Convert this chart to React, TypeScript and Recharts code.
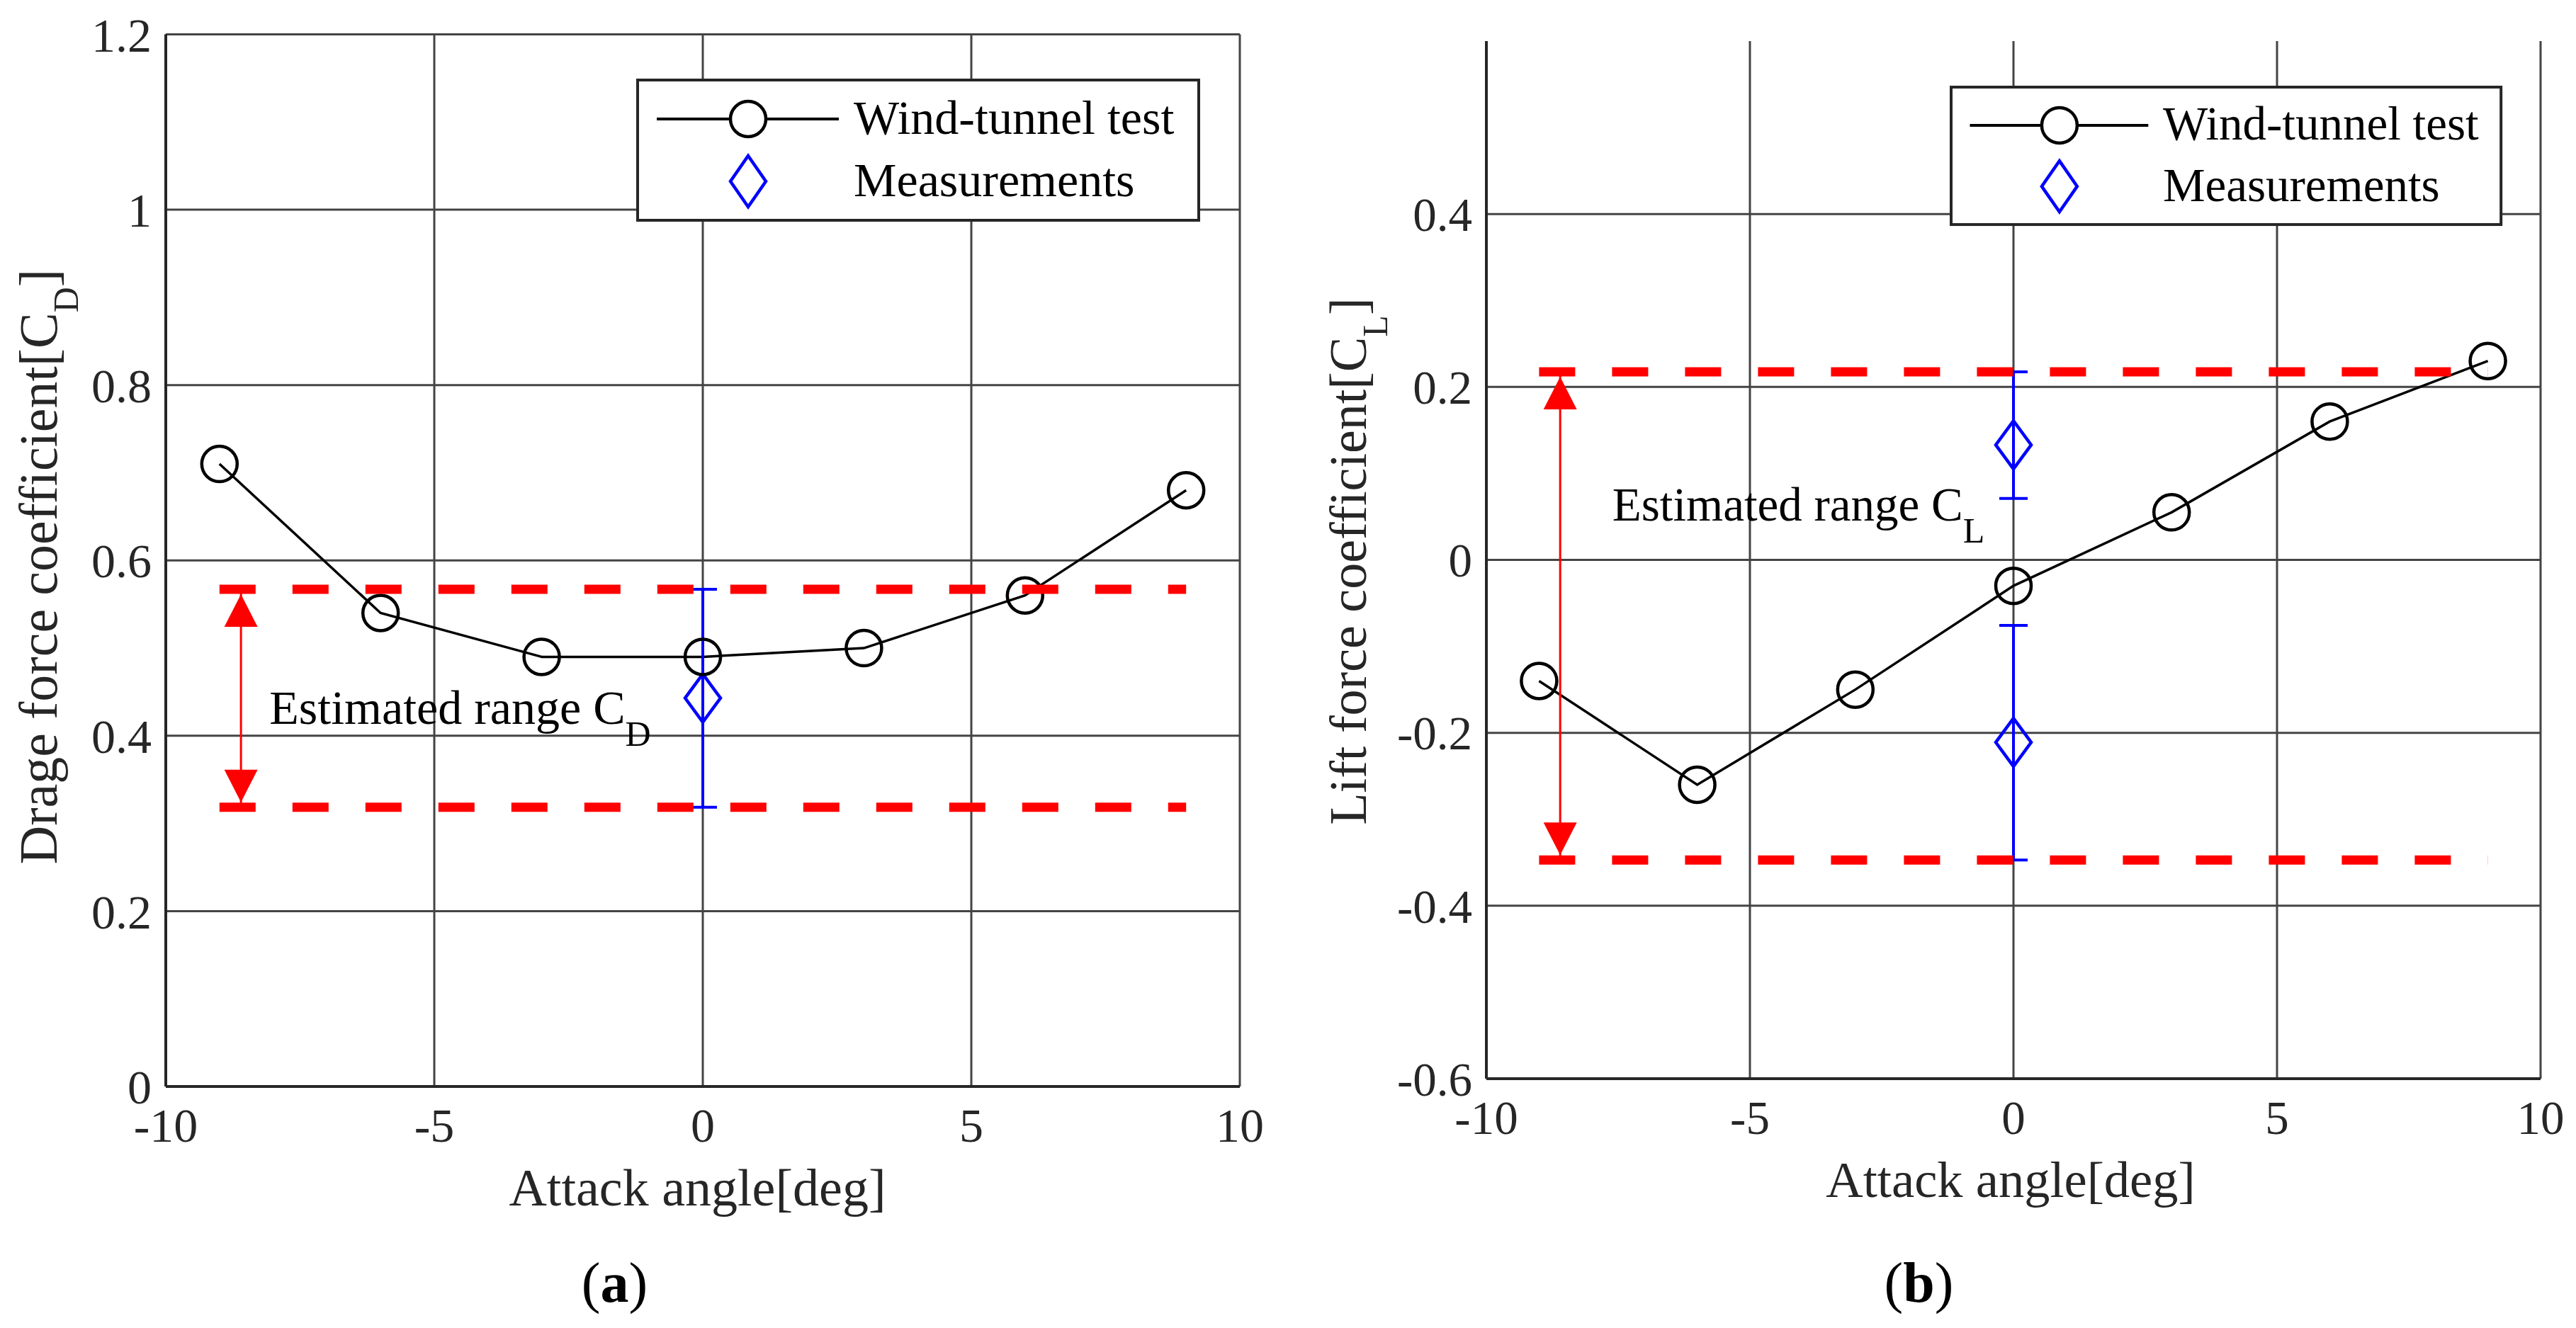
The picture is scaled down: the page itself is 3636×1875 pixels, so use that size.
import React from "react";
import {
  ComposedChart,
  Line,
  Scatter,
  ErrorBar,
  XAxis,
  YAxis,
  CartesianGrid,
  Legend,
  ReferenceDot,
} from "recharts";

const SERIF = "'Liberation Serif', 'Times New Roman', Times, serif";
const AXIS_INK = "#262626";

// wind-tunnel runs
const angles = [-9, -6, -3, 0, 3, 6, 9];
const dragTunnel = [0.71, 0.54, 0.49, 0.49, 0.5, 0.56, 0.68];
const liftTunnel = [-0.14, -0.26, -0.15, -0.03, 0.055, 0.16, 0.23];

// field measurements: mean with lower / upper bound
const dragMeasAngle = [0];
const dragMeas = [0.443];
const dragMeasLow = [0.3185];
const dragMeasHigh = [0.567];

const liftMeasAngle = [0, 0];
const liftMeas = [0.133, -0.211];
const liftMeasLow = [0.071, -0.347];
const liftMeasHigh = [0.2175, -0.0758];

// estimated range (red dashed lines) and the arrow that marks it
const rangeSpan = [-9, 9];
const dragRange = [0.3185, 0.567];
const liftRange = [-0.347, 0.2175];
const arrowAngle = -8.6;

const xTicks = [-10, -5, 0, 5, 10];
const dragTicks = [0, 0.2, 0.4, 0.6, 0.8, 1, 1.2];
const liftTicks = [-0.6, -0.4, -0.2, 0, 0.2, 0.4];

const seriesNames = ["Wind-tunnel test", "Measurements"];

const toXY = (xs: number[], ys: number[]) => xs.map((x, i) => ({ x, y: ys[i] }));
const measPoints = (xs: number[], ys: number[], lo: number[], hi: number[]) =>
  xs.map((x, i) => ({ x, y: ys[i], err: [ys[i] - lo[i], hi[i] - ys[i]] }));
const hLine = (v: number) => rangeSpan.map((x) => ({ x, y: v }));
const arrowPts = (range: number[]) => range.map((y) => ({ x: arrowAngle, y }));

function renderCircle(props: any) {
  const { cx, cy, index } = props;
  if (cx == null || cy == null) return <g key={`c${index}`} />;
  return <circle key={`c${index}`} cx={cx} cy={cy} r={25} fill="none" stroke="#000" strokeWidth={4.5} />;
}

function diamondPoints(cx: number, cy: number, hw: number, hh: number) {
  return `${cx},${cy - hh} ${cx + hw},${cy} ${cx},${cy + hh} ${cx - hw},${cy}`;
}

function renderDiamond(props: any) {
  const { cx, cy } = props;
  return <polygon points={diamondPoints(cx, cy, 25, 34)} fill="none" stroke="#0000ff" strokeWidth={4.5} />;
}

function renderArrowHead(props: any) {
  const { cx, cy, index } = props;
  if (cx == null || cy == null) return <g key={`a${index}`} />;
  const up = index === 1; // second point is the upper bound
  const tip = up ? cy + 7 : cy - 7;
  const base = up ? tip + 46 : tip - 46;
  return (
    <polygon key={`a${index}`} points={`${cx},${tip} ${cx - 23.5},${base} ${cx + 23.5},${base}`} fill="#ff0000" />
  );
}

function XLabel(props: any) {
  const { viewBox, labelText, fs, shiftX, baseDy, cap, capDx, capY } = props;
  const vb = viewBox ?? { x: 0, y: 0, width: 0, height: 0 };
  const mid = vb.x + vb.width / 2;
  return (
    <g>
      <text x={mid + shiftX} y={vb.y + baseDy} textAnchor="middle" fontSize={fs} fontFamily={SERIF} fill={AXIS_INK}>
        {labelText}
      </text>
      <text x={mid + capDx} y={capY} textAnchor="middle" fontSize={80} fontFamily={SERIF} fill="#000">
        (<tspan fontWeight="bold">{cap}</tspan>)
      </text>
    </g>
  );
}

function YLabel(props: any) {
  const { viewBox, labelText, sub, fs, baseX, shiftY } = props;
  const vb = viewBox ?? { x: 0, y: 0, width: 0, height: 0 };
  const cy = vb.y + vb.height / 2 + shiftY;
  return (
    <text
      x={baseX}
      y={cy}
      transform={`rotate(-90 ${baseX} ${cy})`}
      textAnchor="middle"
      fontSize={fs}
      fontFamily={SERIF}
      fill={AXIS_INK}
    >
      {labelText}
      <tspan dy={30} fontSize={50}>
        {sub}
      </tspan>
      <tspan dy={-30}>]</tspan>
    </text>
  );
}

function LegendBox({ scale, fs }: { scale: number; fs: number }) {
  const s = scale;
  const w = 792 * s;
  const h = 198 * s;
  return (
    <svg width={w + 8} height={h + 8} style={{ display: "block" }}>
      <rect x={4} y={4} width={w} height={h} fill="#fff" stroke={AXIS_INK} strokeWidth={4} />
      <line x1={4 + 27 * s} y1={4 + 55 * s} x2={4 + 284 * s} y2={4 + 55 * s} stroke="#000" strokeWidth={4} />
      <circle cx={4 + 156 * s} cy={4 + 55 * s} r={25} fill="#fff" stroke="#000" strokeWidth={4.5} />
      <text x={4 + 305 * s} y={4 + 76 * s} fontSize={fs} fontFamily={SERIF} fill="#000">
        {seriesNames[0]}
      </text>
      <polygon points={diamondPoints(4 + 156 * s, 4 + 143 * s, 25, 36)} fill="none" stroke="#0000ff" strokeWidth={4.5} />
      <text x={4 + 305 * s} y={4 + 164 * s} fontSize={fs} fontFamily={SERIF} fill="#000">
        {seriesNames[1]}
      </text>
    </svg>
  );
}

const renderNote = (main: string, sub: string, fs: number) => (props: any) => (
  <text x={props.cx} y={props.cy} fontSize={fs} fontFamily={SERIF} fill="#000">
    {main}
    <tspan dy={31} fontSize={50}>
      {sub}
    </tspan>
  </text>
);

interface PanelProps {
  tunnel: { x: number; y: number }[];
  meas: { x: number; y: number; err: number[] }[];
  range: number[];
  yDomain: [number, number];
  yTicks: number[];
  yLabel: string;
  ySub: string;
  noteAt: number[];
  noteSub: string;
  caption: string;
  margin: { top: number; right: number; bottom: number; left: number };
  yAxisWidth: number;
  fs: number;
  xLabelFs: number;
  yLabelFs: number;
  yLabelX: number;
  yLabelShift: number;
  xLabelShift: number;
  baseDy: number;
  capDx: number;
  legendPos: { left: number; top: number; scale: number };
}

function Panel(p: PanelProps) {
  const tickStyle = { fontSize: p.fs, fill: AXIS_INK, fontFamily: SERIF };
  const lw = 792 * p.legendPos.scale + 8;
  const lh = 198 * p.legendPos.scale + 8;
  return (
    <ComposedChart width={1818} height={1875} margin={p.margin}>
      <CartesianGrid stroke="#444" strokeWidth={3} syncWithTicks />
      <XAxis
        type="number"
        dataKey="x"
        domain={[-10, 10]}
        ticks={xTicks}
        interval={0}
        allowDataOverflow
        height={100}
        axisLine={{ stroke: AXIS_INK, strokeWidth: 4 }}
        tickLine={false}
        tickSize={0}
        tickMargin={30}
        tick={tickStyle}
        label={
          <XLabel
            labelText="Attack angle[deg]"
            fs={p.xLabelFs}
            shiftX={p.xLabelShift}
            baseDy={p.baseDy}
            cap={p.caption}
            capDx={p.capDx}
            capY={1838}
          />
        }
      />
      <YAxis
        type="number"
        dataKey="y"
        domain={p.yDomain}
        ticks={p.yTicks}
        interval={0}
        allowDataOverflow
        width={p.yAxisWidth}
        axisLine={{ stroke: AXIS_INK, strokeWidth: 4 }}
        tickLine={false}
        tickSize={0}
        tickMargin={20}
        tick={tickStyle}
        label={<YLabel labelText={p.yLabel} sub={p.ySub} fs={p.yLabelFs} baseX={p.yLabelX} shiftY={p.yLabelShift} />}
      />
      <Legend
        layout="horizontal"
        verticalAlign="middle"
        align="center"
        wrapperStyle={{ left: p.legendPos.left, top: p.legendPos.top, width: lw, height: lh }}
        content={<LegendBox scale={p.legendPos.scale} fs={p.fs} />}
      />
      <Line
        data={p.tunnel}
        dataKey="y"
        name={seriesNames[0]}
        stroke="#000"
        strokeWidth={3.5}
        dot={renderCircle}
        activeDot={false}
        isAnimationActive={false}
      />
      <Scatter data={p.meas} name={seriesNames[1]} shape={renderDiamond} isAnimationActive={false}>
        <ErrorBar dataKey="err" direction="y" width={20} stroke="#0000ff" strokeWidth={4} isAnimationActive={false} />
      </Scatter>
      <Line
        data={arrowPts(p.range)}
        dataKey="y"
        stroke="#ff0000"
        strokeWidth={3}
        dot={renderArrowHead}
        activeDot={false}
        legendType="none"
        isAnimationActive={false}
      />
      {p.range.map((v, i) => (
        <Line
          key={`range${i}`}
          data={hLine(v)}
          dataKey="y"
          stroke="#ff0000"
          strokeWidth={13}
          strokeDasharray="51 52"
          dot={false}
          activeDot={false}
          legendType="none"
          zIndex={700}
          isAnimationActive={false}
        />
      ))}
      <ReferenceDot
        x={p.noteAt[0]}
        y={p.noteAt[1]}
        r={0}
        ifOverflow="visible"
        shape={renderNote("Estimated range C", p.noteSub, p.fs)}
      />
    </ComposedChart>
  );
}

export default function App() {
  return (
    <div
      style={{
        position: "absolute",
        left: 0,
        top: 0,
        width: 3636,
        height: 1875,
        background: "#fff",
        overflow: "hidden",
      }}
    >
      <div style={{ position: "absolute", left: 0, top: 0 }}>
        <Panel
          tunnel={toXY(angles, dragTunnel)}
          meas={measPoints(dragMeasAngle, dragMeas, dragMeasLow, dragMeasHigh)}
          range={dragRange}
          yDomain={[0, 1.2]}
          yTicks={dragTicks}
          yLabel="Drage force coefficient[C"
          ySub="D"
          noteAt={[-8.07, 0.414]}
          noteSub="D"
          caption="a"
          margin={{ top: 48.5, right: 68, bottom: 241, left: 0 }}
          yAxisWidth={234}
          fs={68}
          xLabelFs={74}
          yLabelFs={76}
          yLabelX={80}
          yLabelShift={9}
          xLabelShift={-7.5}
          baseDy={167.7}
          capDx={-124.5}
          legendPos={{ left: 896, top: 109, scale: 1 }}
        />
      </div>
      <div style={{ position: "absolute", left: 1818, top: 0 }}>
        <Panel
          tunnel={toXY(angles, liftTunnel)}
          meas={measPoints(liftMeasAngle, liftMeas, liftMeasLow, liftMeasHigh)}
          range={liftRange}
          yDomain={[-0.6, 0.6]}
          yTicks={liftTicks}
          yLabel="Lift force coefficient[C"
          ySub="L"
          noteAt={[-7.61, 0.0455]}
          noteSub="L"
          caption="b"
          margin={{ top: 58, right: 50, bottom: 252, left: 0 }}
          yAxisWidth={280}
          fs={67}
          xLabelFs={72.5}
          yLabelFs={74}
          yLabelX={110}
          yLabelShift={2}
          xLabelShift={-4}
          baseDy={167}
          capDx={-133.5}
          legendPos={{ left: 932, top: 118.5, scale: 0.98 }}
        />
      </div>
    </div>
  );
}
